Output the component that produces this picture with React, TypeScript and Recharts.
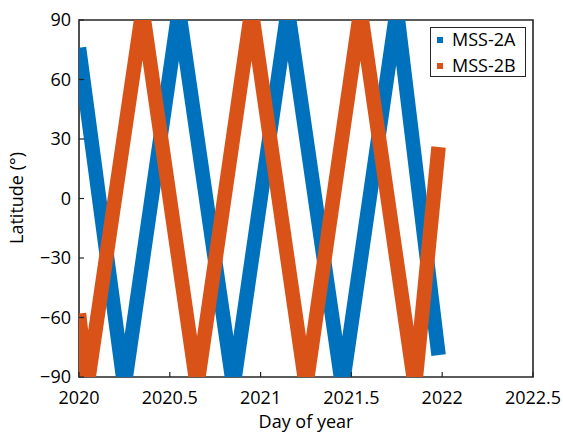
import { LineChart, Line, XAxis, YAxis, ReferenceArea, Label } from "recharts";

// turning points of each satellite's latitude track (centre of the band)
const years2A = [2020, 2020.25, 2020.55, 2020.85, 2021.15, 2021.45, 2021.75, 2021.98];
const lat2A = [76, -95, 95, -95, 95, -95, 95, -79];
const years2B = [2020, 2020.045, 2020.35, 2020.65, 2020.95, 2021.25, 2021.55, 2021.85, 2021.98];
const lat2B = [-58, -95, 95, -95, 95, -95, 95, -95, 26];

const xTicks = [2020, 2020.5, 2021, 2021.5, 2022, 2022.5];
const yTicks = [-90, -60, -30, 0, 30, 60, 90];

const BLUE = "#0072BD";
const ORANGE = "#D95319";
const AXIS = "#262626";
const FONT = "'Open Sans', sans-serif";

const toRows = (xs: number[], ys: number[]) => xs.map((t, i) => ({ t, lat: ys[i] }));

function fmtLat(v: number): string {
  return v < 0 ? `\u2212${Math.abs(v)}` : `${v}`;
}

function YTick({ x, y, payload }: any) {
  return (
    <g>
      <line x1={x} y1={y} x2={x + 5} y2={y} stroke={AXIS} strokeWidth={1.2} />
      <text x={x - 8} y={y + 6} textAnchor="end" fontSize={18} fontFamily={FONT} fill="#000">
        {fmtLat(payload.value)}
      </text>
    </g>
  );
}

function XTick({ x, y, payload }: any) {
  return (
    <g>
      <line x1={x} y1={y} x2={x} y2={y - 5} stroke={AXIS} strokeWidth={1.2} />
      <text x={x} y={y + 27} textAnchor="middle" fontSize={18} fontFamily={FONT} fill="#000">
        {payload.value}
      </text>
    </g>
  );
}

const legendItems = [
  { name: "MSS-2A", color: BLUE },
  { name: "MSS-2B", color: ORANGE },
];

export default function App() {
  const data2A = toRows(years2A, lat2A);
  const data2B = toRows(years2B, lat2B);

  return (
    <div style={{ position: "absolute", left: 0, top: 0, width: 563, height: 434, background: "#fff" }}>
      <LineChart width={563} height={434} margin={{ top: 20, right: 30, bottom: 7, left: 19 }}>
        <XAxis
          dataKey="t"
          type="number"
          domain={[2020, 2022.5]}
          ticks={xTicks}
          allowDataOverflow
          axisLine={false}
          tickLine={false}
          tickSize={0}
          tickMargin={0}
          height={50}
          tick={<XTick />}
        >
          <Label
            content={() => (
              <text x={306} y={428} textAnchor="middle" fontSize={18} fontFamily={FONT} fill="#000">
                Day of year
              </text>
            )}
          />
        </XAxis>
        <YAxis
          dataKey="lat"
          type="number"
          domain={[-90, 90]}
          ticks={yTicks}
          allowDataOverflow
          axisLine={false}
          tickLine={false}
          tickSize={0}
          tickMargin={0}
          width={60}
          tick={<YTick />}
        >
          <Label
            content={() => (
              <text
                x={23}
                y={198}
                transform="rotate(-90 23 198)"
                textAnchor="middle"
                fontSize={18}
                fontFamily={FONT}
                fill="#000"
              >
                Latitude (°)
              </text>
            )}
          />
        </YAxis>
        <Line
          data={data2A}
          dataKey="lat"
          type="linear"
          stroke={BLUE}
          strokeWidth={14.5}
          strokeLinejoin="miter"
          strokeMiterlimit={20}
          dot={false}
          activeDot={false}
          isAnimationActive={false}
        />
        <Line
          data={data2B}
          dataKey="lat"
          type="linear"
          stroke={ORANGE}
          strokeWidth={14.5}
          strokeLinejoin="miter"
          strokeMiterlimit={20}
          dot={false}
          activeDot={false}
          isAnimationActive={false}
        />
        <ReferenceArea x1={2020} x2={2022.5} y1={-90} y2={90} fill="none" stroke={AXIS} strokeWidth={1.6} />
      </LineChart>
      <div
        style={{
          position: "absolute",
          left: 430,
          top: 27,
          width: 94,
          height: 48,
          border: `1.5px solid ${AXIS}`,
          background: "#fff",
          fontFamily: FONT,
          fontSize: 18,
          color: "#000",
          boxSizing: "content-box",
        }}
      >
        {legendItems.map((item, i) => (
          <div key={item.name} style={{ position: "absolute", left: 0, top: i * 26, height: 24, width: 94 }}>
            <span
              style={{
                position: "absolute",
                left: 6,
                top: 9,
                width: 6,
                height: 6,
                background: item.color,
              }}
            />
            <span style={{ position: "absolute", left: 21, top: -1, lineHeight: "24px" }}>{item.name}</span>
          </div>
        ))}
      </div>
    </div>
  );
}
